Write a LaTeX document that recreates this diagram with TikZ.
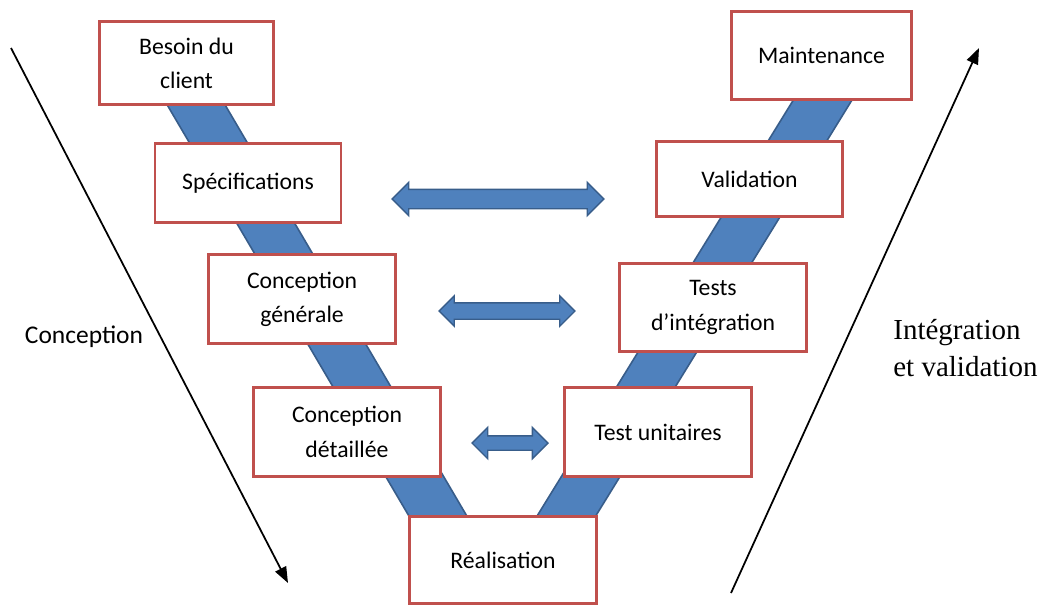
\documentclass[tikz,border=0pt]{standalone}
\usepackage{fontspec}
\setmainfont{Carlito}
\newfontfamily\serifface{Liberation Serif}
\usetikzlibrary{arrows.meta,shapes.arrows}

\definecolor{box-red}{RGB}{192, 80, 77}
\definecolor{band-blue}{RGB}{79, 129, 189}
\definecolor{band-dark}{RGB}{56, 93, 138}

\begin{document}
\begin{tikzpicture}[
        x=0.02cm, y=-0.02cm,
        phase/.style={shape=rectangle, draw=box-red, line width=1.6pt, fill=white, align=center,
            font=\fontsize{13.5}{19.5}\selectfont, minimum width=3.72cm, minimum height=1.74cm},
        band/.style={draw=band-dark, line width=1pt, double=band-blue, double distance=0.96cm},
        link/.style={shape=double arrow, draw=band-dark, line width=0.8pt, fill=band-blue,
            inner xsep=0pt, double arrow head extend=0.14cm},
        side/.style={-{Triangle[length=0.32cm,width=0.24cm]}, line width=1pt},
    ]
        \useasboundingbox (0,0) rectangle (1045,606);

        % the two legs of the V
        \coordinate (leftTop) at (181.5,80);
        \coordinate (leftBot) at (452,540);
        \coordinate (rightBot) at (551.6,540);
        \coordinate (rightTop) at (835,80);
        \draw[band] (leftTop) -- (leftBot);
        \draw[band] (rightBot) -- (rightTop);

        % descending phases
        \node[phase, minimum width=3.48cm, minimum height=1.66cm] (besoin) at (186.5,63) {Besoin du\\client};
        \node[phase, minimum height=1.58cm] (spec) at (248,183) {Spécifications};
        \node[phase, minimum width=3.74cm, minimum height=1.78cm] (cgen) at (302,299) {Conception\\générale};
        \node[phase, minimum width=3.74cm, minimum height=1.78cm] (cdet) at (347,432) {Conception\\détaillée};
        \node[phase, minimum width=3.74cm] (real) at (503,560) {Réalisation};

        % ascending phases
        \node[phase, minimum width=3.74cm, minimum height=1.78cm] (tunit) at (658,432) {Test unitaires};
        \node[phase, minimum width=3.74cm, minimum height=1.76cm] (tint) at (713,307.5) {Tests\\d’intégration};
        \node[phase, minimum height=1.5cm] (valid) at (749.5,179) {Validation};
        \node[phase, minimum width=3.6cm, minimum height=1.76cm] (maint) at (821.5,55.5) {Maintenance};

        % correspondence arrows
        \node[link, inner ysep=0.18cm, minimum height=4.24cm] (lnk1) at (498,199) {};
        \node[link, inner ysep=0.15cm, minimum height=2.72cm] (lnk2) at (507,311) {};
        \node[link, inner ysep=0.13cm, double arrow head extend=0.17cm, minimum height=1.52cm] (lnk3) at (510,443) {};

        % side arrows and labels
        \coordinate (concStart) at (11,48);
        \coordinate (concEnd) at (288,583);
        \coordinate (valStart) at (731,593);
        \coordinate (valEnd) at (979,48);
        \draw[side] (concStart) -- (concEnd);
        \draw[side] (valStart) -- (valEnd);
        \node[font=\fontsize{14.5}{17}\selectfont] (concLabel) at (84,337) {Conception};
        \node[anchor=west, inner sep=0pt, align=left, font=\serifface\fontsize{16.5}{21}\selectfont] (valLabel) at (893,348) {Intégration\\et validation};
    \end{tikzpicture}
\end{document}
